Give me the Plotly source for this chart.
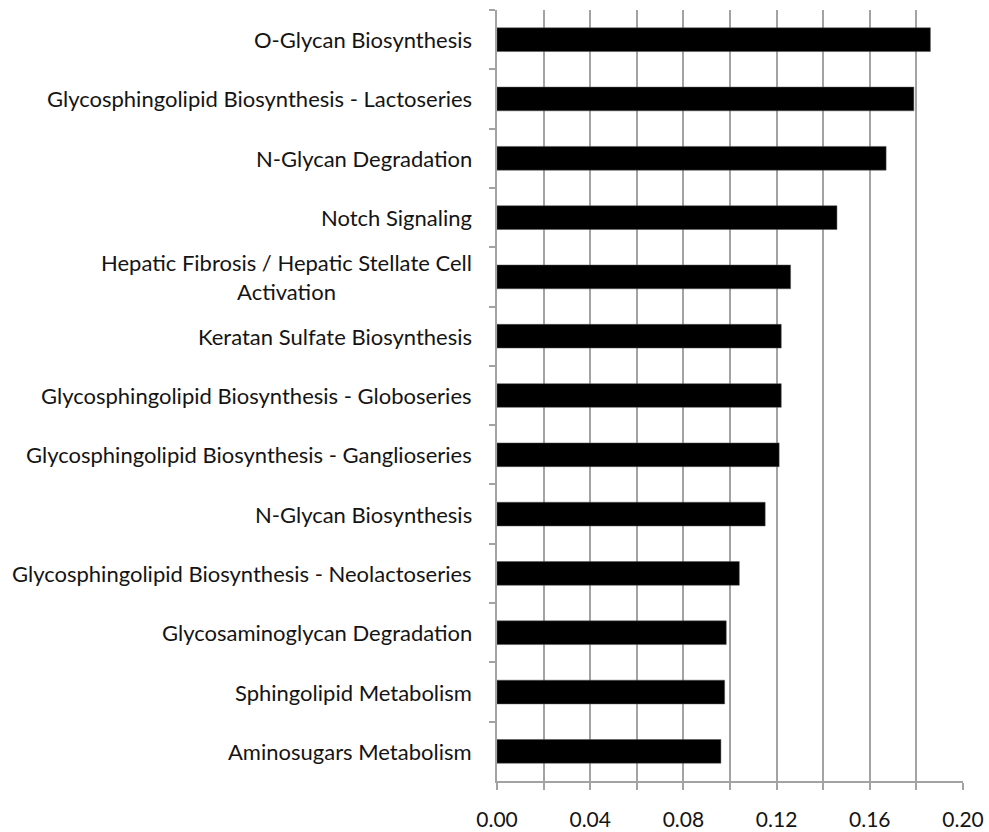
import plotly.graph_objects as go

categories = [
    "O-Glycan Biosynthesis",
    "Glycosphingolipid Biosynthesis - Lactoseries",
    "N-Glycan Degradation",
    "Notch Signaling",
    "Hepatic Fibrosis / Hepatic Stellate Cell<br>Activation",
    "Keratan Sulfate Biosynthesis",
    "Glycosphingolipid Biosynthesis - Globoseries",
    "Glycosphingolipid Biosynthesis - Ganglioseries",
    "N-Glycan Biosynthesis",
    "Glycosphingolipid Biosynthesis - Neolactoseries",
    "Glycosaminoglycan Degradation",
    "Sphingolipid Metabolism",
    "Aminosugars Metabolism",
]
values = [0.186, 0.1789, 0.1670, 0.1459, 0.1260, 0.1220, 0.1220, 0.1211,
          0.1151, 0.1040, 0.0984, 0.0977, 0.0961]
x_tick_vals = [0.00, 0.04, 0.08, 0.12, 0.16, 0.20]
x_tick_text = ["0.00", "0.04", "0.08", "0.12", "0.16", "0.20"]

FONT = "Lato, 'Open Sans', sans-serif"
GRID = "#a3a3a3"
TXT = "#141414"

fig = go.Figure(go.Bar(
    x=values, y=categories, orientation="h",
    marker=dict(color="#000000", line=dict(color="#555555", width=0.5)),
))

annotations = [
    dict(text=c, x=0, y=c, xref="paper", yref="y", xanchor="right",
         yanchor="middle", align="center", xshift=-23, showarrow=False,
         font=dict(family=FONT, size=22, color=TXT))
    for c in categories
]

fig.update_layout(
    width=989, height=832,
    margin=dict(l=497, r=26, t=10, b=51),
    paper_bgcolor="white", plot_bgcolor="white",
    bargap=0.6,
    showlegend=False,
    annotations=annotations,
    font=dict(family=FONT, size=20, color=TXT),
    xaxis=dict(
        automargin=False,
        range=[0, 0.2], tickvals=x_tick_vals, ticktext=x_tick_text,
        showgrid=True, gridcolor=GRID, gridwidth=1.5,
        zeroline=False,
        showline=True, linecolor=GRID, linewidth=1.5,
        ticks="outside", ticklen=7, tickcolor=GRID, tickwidth=1.5,
        ticklabelstandoff=12,
        minor=dict(dtick=0.02, tick0=0, showgrid=True, gridcolor=GRID,
                   gridwidth=1.5, ticks="outside", ticklen=7,
                   tickcolor=GRID, tickwidth=1.5),
        tickfont=dict(family=FONT, size=21, color=TXT),
    ),
    yaxis=dict(
        automargin=False,
        type="category", categoryorder="array", categoryarray=categories,
        range=[len(categories) - 0.5, -0.5],
        showticklabels=False,
        showgrid=False, zeroline=False,
        showline=True, linecolor=GRID, linewidth=1.5,
        ticks="outside", tickson="boundaries", ticklen=6,
        tickcolor=GRID, tickwidth=1.5,
    ),
)

fig.write_html("out.html", config={"displayModeBar": False},
               post_script="document.body.style.margin='0px';")
